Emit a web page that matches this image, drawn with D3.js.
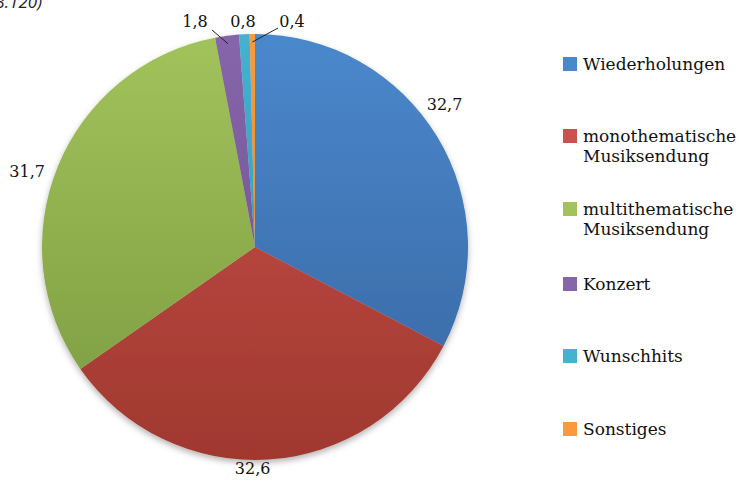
<!DOCTYPE html>
<html><head><meta charset="utf-8">
<script src="https://cdn.jsdelivr.net/npm/d3@7"></script>
<style>body{margin:0;background:#fff}svg{display:block}</style>
</head><body>
<svg id="c" width="744" height="490"></svg>
<script>
const categories = ["Wiederholungen","monothematische Musiksendung","multithematische Musiksendung","Konzert","Wunschhits","Sonstiges"];
const values = [32.7, 32.6, 31.7, 1.8, 0.8, 0.4];
const valueLabels = ["32,7","32,6","31,7","1,8","0,8","0,4"];
const colorsTop = ["#4a88cc","#c9524c","#a2c35b","#8666aa","#45b2cf","#f99a3c"];
const colorsBottom = ["#3765a0","#a0382f","#7a9940","#6a4c8a","#2e90ad","#e58020"];
const subtitle = "(n = 3.120)";

const svg = d3.select("#c");
const cx = 255, cy = 247, r = 213;
const font = "'DejaVu Serif', serif";

const defs = svg.append("defs");
const f = defs.append("filter").attr("id","sh").attr("x","-20%").attr("y","-20%").attr("width","140%").attr("height","140%");
f.append("feDropShadow").attr("dx",0).attr("dy",3).attr("stdDeviation",3).attr("flood-color","#000").attr("flood-opacity",0.3);
categories.forEach((c,i)=>{
  const g = defs.append("linearGradient").attr("id","g"+i).attr("gradientUnits","userSpaceOnUse")
    .attr("x1",0).attr("y1",-r).attr("x2",0).attr("y2",r);
  g.append("stop").attr("offset","0%").attr("stop-color",colorsTop[i]);
  g.append("stop").attr("offset","100%").attr("stop-color",colorsBottom[i]);
});

svg.append("text").attr("x",42).attr("y",8).attr("text-anchor","end").attr("font-family","'Open Sans', sans-serif")
  .attr("font-style","italic").attr("font-size",17).attr("fill","#222").text(subtitle);

const pie = d3.pie().sort(null).value(d=>d)(values);
const arc = d3.arc().innerRadius(0).outerRadius(r);
const g = svg.append("g").attr("transform",`translate(${cx},${cy})`);
g.append("g").attr("filter","url(#sh)").selectAll("path").data(pie).join("path")
  .attr("d",arc).attr("fill",(d,i)=>`url(#g${i})`);

// labels (layout nudges, like the original's manual label placement)
const labelArc = d3.arc().innerRadius(232).outerRadius(232);
const nudge = {0:[-9,-23],1:[-17,-10],2:[-13,12]};
const fixed = {3:[-60,-226],4:[-12,-226],5:[37,-226]};
const lab = g.append("g").attr("font-family",font).attr("font-size",16).attr("fill","#111");
pie.forEach((d,i)=>{
  let [x,y] = labelArc.centroid(d);
  if (nudge[i]) { x += nudge[i][0]; y += nudge[i][1]; }
  if (fixed[i]) { [x,y] = fixed[i]; }
  lab.append("text").attr("x",x).attr("y",y).attr("text-anchor","middle")
    .attr("dominant-baseline","central").text(valueLabels[i]);
});
// leader lines
const inner = d3.arc().innerRadius(r-8).outerRadius(r-8);
[[3,-43,-217],[5,23,-219]].forEach(([i,x0,y0])=>{
  const [x1,y1] = inner.centroid(pie[i]);
  g.append("line").attr("x1",x0).attr("y1",y0).attr("x2",x1).attr("y2",y1)
    .attr("stroke","#222").attr("stroke-width",1);
});

// legend
const legY = [57,129,202,277,349,422];
const leg = svg.append("g").attr("font-family",font).attr("font-size",17).attr("fill","#111");
categories.forEach((c,i)=>{
  leg.append("rect").attr("x",563).attr("y",legY[i]).attr("width",14).attr("height",14)
    .attr("fill",colorsTop[i]);
  const words = c.split(" ");
  const t = leg.append("text").attr("x",583).attr("y",legY[i]+13);
  words.forEach((w,k)=>t.append("tspan").attr("x",583).attr("dy",k?20:0).text(w));
});
</script>
</body></html>
